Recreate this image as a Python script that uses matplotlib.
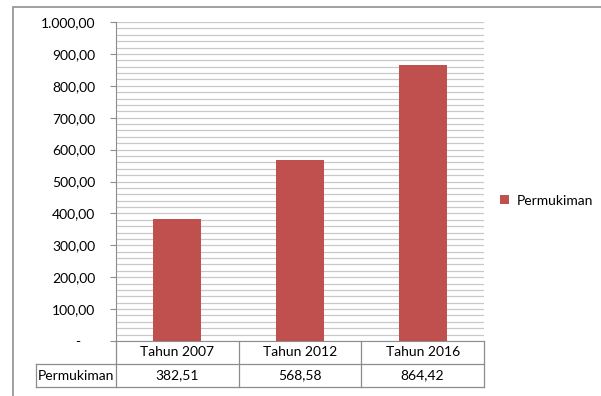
import matplotlib

matplotlib.use("Agg")
import matplotlib.pyplot as plt
from matplotlib.patches import Rectangle
from matplotlib.ticker import MultipleLocator, FuncFormatter

# data
categories = ["Tahun 2007", "Tahun 2012", "Tahun 2016"]
values = [382.51, 568.58, 864.42]
series_name = "Permukiman"

BAR = "#C0504D"
GRID = "#C8C8C8"
EDGE = "#8C8C8C"
W, H = 601, 396
FS = 10

plt.rcParams["font.family"] = ["Lato", "DejaVu Sans"]
fig = plt.figure(figsize=(W / 100, H / 100), dpi=100)


def px(x0, y0, x1, y1):
    # pixel box -> figure fraction rect
    return [x0 / W, 1 - y1 / H, (x1 - x0) / W, (y1 - y0) / H]


# outer chart frame
fig.patches.append(Rectangle((13 / W, -0.1), 1.2, 1 - 7 / H + 0.1, transform=fig.transFigure,
                             fill=False, edgecolor="#909090", linewidth=1.2))

ax = fig.add_axes(px(116, 22, 484, 341))
pos = range(len(categories))
ax.bar(pos, values, width=0.39, color=BAR, zorder=3, label=series_name)
ax.set_xlim(-0.5, len(categories) - 0.5)
ax.set_ylim(0, 1000)
ax.yaxis.set_major_locator(MultipleLocator(100))
ax.yaxis.set_minor_locator(MultipleLocator(20))


def fmt(v, _):
    if v == 0:
        return "-    "
    s = f"{v:,.2f}"
    return s.replace(",", "X").replace(".", ",").replace("X", ".")


ax.yaxis.set_major_formatter(FuncFormatter(fmt))
ax.grid(axis="y", which="both", color=GRID, linewidth=0.9, zorder=0)
ax.set_xticks([])
for s in ("top", "right"):
    ax.spines[s].set_visible(False)
ax.spines["left"].set_color(EDGE)
ax.spines["bottom"].set_color(EDGE)
ax.tick_params(axis="y", which="major", length=4, color=EDGE, labelsize=FS, pad=11)
ax.tick_params(axis="y", which="minor", length=0)

# data table under the plot, same x units as the bars
label_w = 80 / 122.7
tax = fig.add_axes(px(36, 341, 484, 387))
tax.set_xlim(-0.5 - label_w, len(categories) - 0.5)
tax.set_ylim(0, 2)
tax.axis("off")
lk = dict(color=EDGE, linewidth=0.9, clip_on=False)
tax.plot([-0.5 - label_w, len(categories) - 0.5], [0, 0], **lk)
tax.plot([-0.5 - label_w, len(categories) - 0.5], [1, 1], **lk)
tax.plot([-0.5 - label_w, -0.5 - label_w], [0, 1], **lk)
for i in range(len(categories) + 1):
    tax.plot([i - 0.5, i - 0.5], [0, 2], **lk)
for i, (c, v) in enumerate(zip(categories, values)):
    tax.text(i, 1.5, c, ha="center", va="center", fontsize=FS)
    tax.text(i, 0.5, f"{v:.2f}".replace(".", ","), ha="center", va="center", fontsize=FS)
tax.text(-0.5 - label_w / 2, 0.5, series_name, ha="center", va="center", fontsize=FS)

ax.legend(loc="center left", bbox_to_anchor=(1.01, 0.44), frameon=False, fontsize=FS,
          handlelength=0.6, handleheight=0.6, handletextpad=0.6)

fig.savefig("out.png", dpi=100)
